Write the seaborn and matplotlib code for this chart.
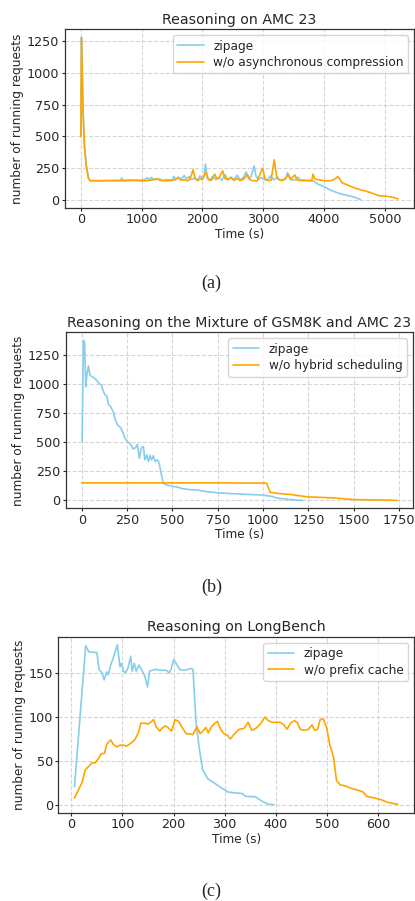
import matplotlib
matplotlib.use("Agg")
import matplotlib.pyplot as plt
import seaborn as sns
import pandas as pd

# (a) Reasoning on AMC 23
a_zip_t = [0, 10, 20, 35, 60, 90, 125, 150, 300, 500,
           650, 670, 700, 800, 950, 1050, 1100, 1130, 1160, 1200,
           1300, 1350, 1400, 1500, 1530, 1560, 1600, 1650, 1700, 1740,
           1780, 1820, 1880, 1920, 1960, 2000, 2030, 2050, 2080, 2120,
           2170, 2220, 2270, 2320, 2370, 2420, 2470, 2520, 2570, 2620,
           2670, 2720, 2760, 2800, 2850, 2880, 2920, 2970, 3020, 3070,
           3120, 3170, 3220, 3270, 3320, 3370, 3400, 3430, 3470, 3520,
           3570, 3620, 3670, 3720, 3770, 3820, 3900, 4000, 4100, 4200,
           4300, 4400, 4500, 4600]
a_zip_v = [500, 1280, 1050, 700, 420, 270, 170, 152, 152, 153,
           155, 172, 155, 158, 155, 160, 175, 158, 178, 160,
           165, 152, 160, 158, 185, 160, 180, 165, 192, 165,
           185, 160, 175, 155, 190, 165, 200, 284, 170, 155,
           185, 160, 175, 155, 200, 160, 180, 158, 195, 160,
           175, 220, 165, 185, 268, 190, 160, 175, 160, 158,
           190, 158, 175, 155, 160, 165, 215, 190, 160, 155,
           180, 155, 158, 152, 155, 150, 125, 105, 79, 60,
           45, 34, 22, 3]
a_wo_t = [0, 11, 33, 60, 87, 125, 152, 300, 500, 700,
          900, 1000, 1100, 1200, 1250, 1300, 1400, 1500, 1550, 1600,
          1650, 1700, 1760, 1800, 1846, 1880, 1920, 1970, 2000, 2060,
          2100, 2150, 2201, 2240, 2280, 2332, 2370, 2420, 2470, 2520,
          2570, 2620, 2680, 2740, 2780, 2820, 2900, 2990, 3030, 3080,
          3130, 3181, 3220, 3260, 3300, 3350, 3410, 3450, 3520, 3560,
          3650, 3750, 3800, 3818, 3850, 3900, 4000, 4100, 4180, 4227,
          4260, 4300, 4400, 4500, 4600, 4700, 4800, 4900, 5000, 5100,
          5220]
a_wo_v = [500, 1277, 750, 410, 276, 171, 152, 150, 152, 150,
          153, 150, 152, 160, 168, 155, 150, 153, 160, 175,
          155, 160, 150, 170, 237, 170, 152, 165, 160, 218,
          160, 155, 203, 165, 180, 229, 170, 160, 175, 155,
          170, 152, 165, 200, 160, 152, 150, 250, 165, 152,
          155, 316, 190, 160, 152, 160, 197, 160, 197, 155,
          152, 152, 150, 203, 165, 160, 152, 150, 165, 184,
          165, 135, 115, 95, 80, 68, 52, 34, 30, 25,
          8]
a_yticks = [0, 250, 500, 750, 1000, 1250]

# (b) Reasoning on the Mixture of GSM8K and AMC 23
b_zip_t = [2, 9, 16, 22, 28, 37, 46, 59, 77, 96,
           108, 120, 129, 138, 147, 160, 175, 184, 197, 215,
           228, 239, 252, 270, 283, 298, 307, 318, 329, 340,
           348, 359, 368, 377, 386, 395, 405, 418, 427, 436,
           449, 464, 500, 528, 555, 601, 638, 650, 700, 750,
           800, 900, 1000, 1050, 1079, 1100, 1150, 1217]
b_zip_v = [504, 1372, 1358, 974, 1074, 1153, 1074, 1059, 1039, 1002,
           988, 931, 903, 897, 823, 803, 754, 697, 646, 623,
           575, 532, 504, 481, 441, 453, 481, 361, 453, 461,
           347, 390, 333, 384, 347, 384, 333, 347, 318, 247,
           148, 134, 120, 114, 100, 91, 89, 85, 72, 65,
           60, 52, 45, 33, 20, 15, 6, 0]
b_wo_t = [0, 200, 400, 600, 800, 900, 1000, 1020, 1039, 1080,
          1158, 1250, 1300, 1397, 1489, 1550, 1636, 1740]
b_wo_v = [150, 150, 150, 150, 150, 148, 148, 148, 70, 60,
          49, 29, 27, 20, 8, 5, 3, 0]
b_yticks = [0, 250, 500, 750, 1000, 1250]

# (c) Reasoning on LongBench
c_zip_t = [6, 28, 34, 50, 54, 60, 64, 69, 72, 78,
           82, 85, 90, 95, 98, 102, 106, 111, 116, 119,
           123, 127, 132, 138, 144, 149, 153, 163, 176, 186,
           191, 195, 200, 205, 212, 221, 228, 234, 238, 244,
           251, 257, 267, 280, 290, 306, 319, 335, 341, 360,
           373, 386, 396]
c_zip_v = [21, 181, 174, 173, 154, 150, 142, 151, 148, 161,
           167, 173, 182, 157, 161, 152, 150, 156, 169, 152,
           161, 152, 159, 153, 146, 134, 152, 154, 153, 153,
           150, 154, 165, 161, 154, 153, 154, 155, 154, 93,
           62, 40, 30, 25, 21, 15, 14, 13, 10, 9.5,
           4.5, 1, 0.5]
c_wo_t = [6, 21, 27, 34, 40, 47, 53, 58, 65, 69,
          77, 82, 89, 95, 102, 108, 118, 124, 131, 136,
          144, 150, 157, 161, 166, 173, 177, 184, 189, 196,
          203, 210, 218, 225, 231, 238, 242, 246, 252, 257,
          263, 268, 274, 281, 286, 293, 299, 306, 311, 318,
          328, 338, 346, 353, 361, 370, 379, 385, 393, 401,
          409, 416, 422, 429, 437, 443, 448, 456, 464, 471,
          476, 482, 487, 493, 500, 506, 513, 519, 526, 535,
          548, 561, 571, 578, 594, 607, 620, 629, 639]
c_wo_v = [8, 26, 40, 44, 48, 48, 53, 58, 59, 69,
          74, 69, 66, 68, 68, 67, 71, 74, 82, 93,
          93, 92, 95, 97, 89, 84, 87, 90, 88, 84,
          97, 95, 87, 81, 81, 80, 85, 89, 81, 84,
          88, 82, 89, 93, 95, 85, 81, 79, 75, 80,
          86, 87, 94, 85, 87, 92, 100, 96, 94, 94,
          94, 91, 86, 93, 96, 93, 86, 85, 86, 91,
          85, 86, 97, 98, 87, 68, 55, 28, 23, 22,
          19, 17, 15, 10, 8, 6, 3, 2, 1]
c_yticks = [0, 50, 100, 150]

panels = [
    ("Reasoning on AMC 23", (a_zip_t, a_zip_v), (a_wo_t, a_wo_v),
     "w/o asynchronous compression", "(a)", a_yticks,
     [0.1566, 0.7695, 0.841, 0.198], 0.686),
    ("Reasoning on the Mixture of GSM8K and AMC 23", (b_zip_t, b_zip_v), (b_wo_t, b_wo_v),
     "w/o hybrid scheduling", "(b)", b_yticks,
     [0.159, 0.4358, 0.836, 0.1953], 0.3485),
    ("Reasoning on LongBench", (c_zip_t, c_zip_v), (c_wo_t, c_wo_v),
     "w/o prefix cache", "(c)", c_yticks,
     [0.1405, 0.098, 0.857, 0.1953], 0.0103),
]

sns.set_style("ticks")
plt.rcParams['font.family'] = ['DejaVu Sans']

fig = plt.figure(figsize=(4.15, 9.01), dpi=100)
for title, zip_data, wo_data, wo_label, cap, yticks, rect, cap_y in panels:
    ax = fig.add_axes(rect)
    dz = pd.DataFrame({"t": zip_data[0], "v": zip_data[1]})
    dw = pd.DataFrame({"t": wo_data[0], "v": wo_data[1]})
    sns.lineplot(data=dz, x="t", y="v", ax=ax, color="#87CEEB", linewidth=1.2,
                 label="zipage", sort=False, estimator=None)
    sns.lineplot(data=dw, x="t", y="v", ax=ax, color="#FFA500", linewidth=1.2,
                 label=wo_label, sort=False, estimator=None)
    ax.set_yticks(yticks)
    ax.grid(True, linestyle="--", color="#cccccc", alpha=0.8, linewidth=0.8)
    ax.set_title(title, fontsize=10.2, pad=4)
    ax.set_xlabel("Time (s)", fontsize=8.7, labelpad=1)
    ax.set_ylabel("number of running requests", fontsize=8.7, labelpad=2)
    ax.tick_params(labelsize=9.2, length=2.5, pad=1.5, width=0.8)
    for s in ax.spines.values():
        s.set_color("#333333")
        s.set_linewidth(0.9)
    ax.legend(loc="upper right", fontsize=8.7, frameon=True, borderpad=0.35,
              labelspacing=0.3, handlelength=2.2)
    fig.text(0.51, cap_y, cap, ha="center", va="center",
             family="Liberation Serif", fontsize=13)

fig.savefig("out.png", dpi=100)
